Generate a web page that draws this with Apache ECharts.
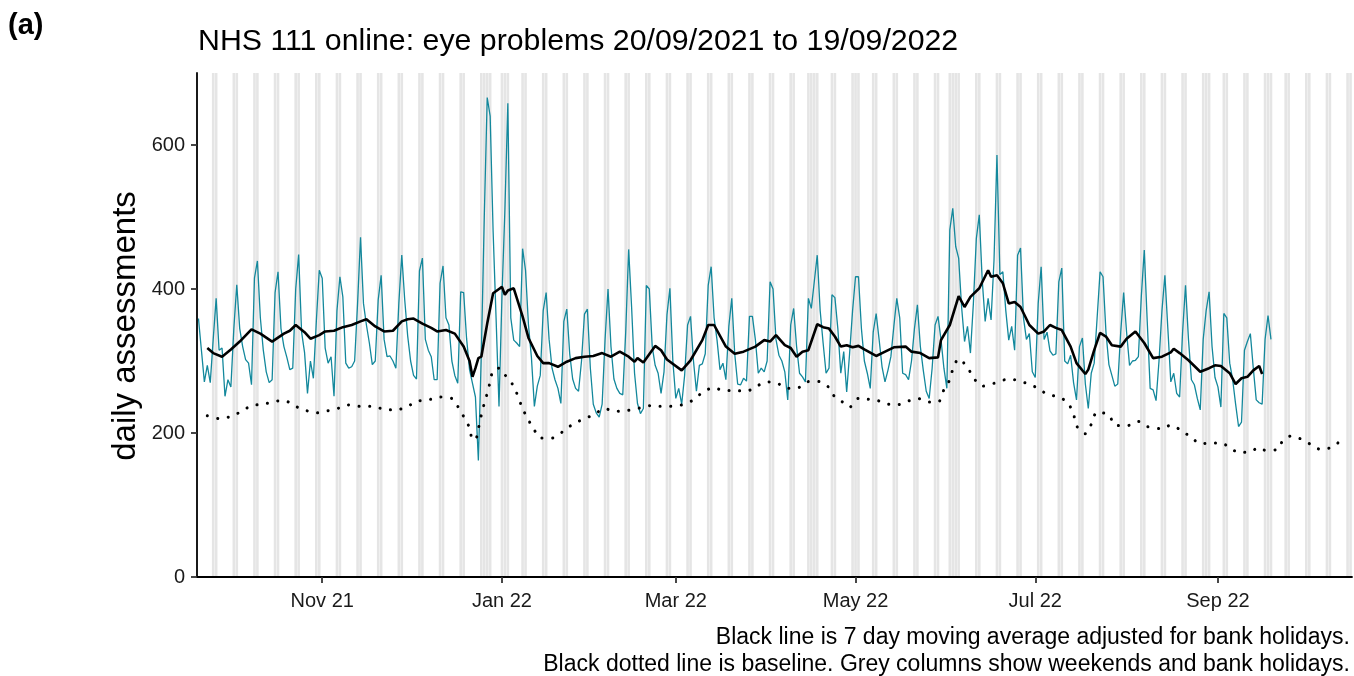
<!DOCTYPE html>
<html>
<head>
<meta charset="utf-8">
<title>NHS 111 online: eye problems</title>
<script src="https://cdn.jsdelivr.net/npm/echarts@6/dist/echarts.min.js"></script>
<style>
html, body { margin: 0; padding: 0; background: #fff; }
#chart { width: 1354px; height: 676px; }
</style>
</head>
<body>
<div id="chart"></div>
<script>
// the x axis runs day by day, from the first assessment to the end of the baseline
const startDate = '2021-09-20'
const endDate = '2022-10-16'

// daily assessments, one value per day from 20/09/2021 to 19/09/2022 (Mon..Sun rows)
const daily = [
  359, 315, 271, 294, 270, 330, 387,
  315, 318, 251, 274, 264, 345, 406,
  345, 320, 302, 297, 267, 415, 439,
  360, 315, 285, 270, 274, 395, 424,
  345, 320, 305, 288, 290, 400, 448,
  340, 312, 255, 300, 276, 355, 426,
  415, 318, 297, 306, 251, 370, 417,
  389, 297, 290, 292, 300, 380, 472,
  380, 350, 325, 295, 300, 385, 419,
  330, 306, 307, 300, 290, 380, 447,
  385, 335, 300, 280, 275, 425, 443,
  330, 315, 306, 274, 274, 408, 432,
  360, 350, 300, 280, 269, 396, 395,
  331, 288, 269, 250, 162, 310, 500,
  666, 640, 480, 360, 237, 390, 510,
  658, 360, 329, 325, 320, 456, 426,
  350, 305, 237, 265, 280, 370, 395,
  330, 290, 274, 262, 241, 355, 372,
  310, 275, 262, 258, 300, 365, 372,
  290, 240, 228, 222, 240, 330, 400,
  320, 275, 262, 255, 253, 340, 455,
  375, 283, 241, 227, 234, 405, 400,
  320, 294, 283, 255, 285, 364, 401,
  300, 248, 262, 240, 280, 350, 362,
  300, 258, 294, 296, 310, 405, 431,
  360, 329, 288, 297, 274, 348, 387,
  310, 268, 267, 276, 272, 362, 362,
  330, 283, 290, 285, 300, 410, 400,
  330, 308, 300, 285, 246, 350, 373,
  320, 283, 278, 271, 387, 373, 410,
  447, 370, 325, 283, 290, 392, 388,
  345, 283, 313, 257, 311, 370, 417,
  417, 345, 300, 283, 262, 340, 366,
  330, 292, 271, 287, 306, 348, 387,
  360, 283, 281, 274, 300, 345, 378,
  320, 287, 258, 248, 290, 350, 362,
  330, 290, 262, 482, 512, 459, 443,
  375, 327, 348, 311, 380, 470, 503,
  412, 355, 387, 357, 440, 586, 420,
  424, 370, 329, 348, 315, 447, 457,
  360, 330, 338, 285, 277, 380, 431,
  330, 340, 314, 308, 310, 410, 429,
  300, 296, 308, 270, 246, 320, 332,
  268, 234, 283, 297, 360, 424, 417,
  340, 295, 280, 265, 268, 340, 395,
  340, 294, 300, 301, 306, 390, 454,
  355, 262, 260, 245, 300, 370, 419,
  345, 271, 283, 255, 250, 340, 405,
  330, 274, 267, 248, 232, 330, 370,
  396, 320, 277, 264, 236, 366, 360,
  297, 274, 240, 209, 215, 315, 327,
  338, 290, 246, 242, 240, 330, 363,
  330
]

// 7 day moving average, [day number from 20/09/2021, value]
const movingAvg = [
  [3, 318], [5, 311], [8, 306], [11, 316], [14, 327], [18, 344], [21, 338], [25, 327],
  [29, 338], [31, 342], [33, 350], [36, 340], [38, 331], [41, 336], [43, 341], [46, 342],
  [49, 347], [52, 350], [55, 355], [57, 358], [60, 348], [63, 341], [66, 342], [69, 355],
  [71, 358], [73, 359], [76, 352], [79, 346], [81, 341], [84, 343], [87, 338], [90, 320],
  [92, 300], [93, 278], [94, 290], [95, 304], [96, 306], [98, 352], [100, 394], [102, 400],
  [103, 403], [104, 392], [105, 398], [107, 401], [110, 362], [112, 332], [115, 307], [117, 297],
  [119, 297], [122, 292], [125, 299], [128, 304], [131, 306], [134, 307], [137, 311], [140, 306],
  [143, 313], [146, 306], [148, 299], [149, 304], [151, 298], [155, 321], [157, 315], [159, 302],
  [164, 287], [167, 301], [171, 329], [173, 350], [175, 350], [179, 320], [182, 310], [185, 313],
  [189, 320], [192, 329], [194, 327], [196, 336], [199, 322], [201, 318], [203, 306], [205, 313],
  [207, 315], [210, 351], [212, 347], [214, 345], [216, 334], [218, 320], [220, 322], [222, 319],
  [224, 321], [226, 316], [230, 307], [232, 311], [236, 319], [240, 320], [242, 313], [245, 311],
  [248, 304], [251, 305], [252, 329], [255, 350], [258, 390], [260, 375], [262, 389], [265, 401],
  [268, 426], [269, 417], [271, 419], [273, 408], [275, 380], [277, 382], [279, 375], [282, 350],
  [285, 338], [287, 341], [289, 350], [291, 346], [293, 343], [296, 320], [298, 297], [301, 282],
  [302, 288], [304, 315], [306, 339], [308, 334], [310, 322], [313, 320], [315, 331], [318, 341],
  [321, 325], [324, 304], [327, 306], [330, 312], [331, 317], [333, 311], [336, 301], [340, 285],
  [343, 290], [345, 294], [347, 293], [350, 283], [352, 268], [354, 276], [356, 278], [358, 287],
  [360, 293], [361, 282]
]

// baseline, [day number from 20/09/2021, value]
const baseline = [
  [3, 224], [7, 220], [11, 223], [15, 231], [18, 238], [22, 240], [26, 244], [29, 245],
  [33, 237], [36, 232], [40, 228], [44, 231], [48, 235], [51, 239], [55, 237], [59, 237],
  [63, 233], [67, 232], [71, 237], [74, 244], [78, 246], [82, 250], [86, 248], [88, 237],
  [90, 223], [92, 207], [93, 191], [94, 191], [95, 206], [96, 225], [97, 241], [98, 255],
  [99, 271], [100, 287], [102, 290], [105, 275], [107, 265], [110, 234], [112, 218], [114, 204],
  [116, 193], [120, 193], [124, 203], [127, 212], [131, 220], [134, 225], [138, 234], [141, 230],
  [145, 231], [149, 234], [153, 238], [156, 237], [160, 237], [164, 239], [168, 246], [171, 256],
  [175, 263], [178, 259], [182, 259], [186, 258], [189, 264], [193, 271], [196, 270], [200, 262],
  [203, 262], [206, 270], [208, 272], [211, 271], [214, 263], [216, 250], [219, 242], [221, 236],
  [224, 248], [227, 247], [230, 246], [233, 241], [237, 239], [240, 243], [244, 248], [248, 243],
  [251, 243], [253, 260], [255, 274], [256, 288], [258, 303], [261, 291], [263, 277], [266, 265],
  [270, 269], [274, 274], [277, 274], [281, 269], [285, 262], [288, 254], [292, 250], [295, 242],
  [297, 226], [298, 210], [301, 199], [303, 212], [305, 229], [309, 225], [311, 211], [315, 210],
  [319, 216], [322, 209], [327, 206], [330, 211], [334, 202], [337, 194], [340, 185], [343, 186],
  [347, 186], [350, 180], [353, 173], [357, 174], [360, 180], [362, 176], [366, 177], [368, 189],
  [371, 196], [374, 192], [378, 183], [381, 177], [385, 181], [388, 191]
]

// bank holidays (shown grey along with weekends)
const bankHolidays = ['2021-12-27', '2021-12-28', '2022-01-03', '2022-04-15', '2022-04-18',
  '2022-05-02', '2022-06-02', '2022-06-03', '2022-08-29', '2022-09-19']

const yTicks = [0, 200, 400, 600]
const monthLabels = {
  '2021-11-01': 'Nov 21', '2022-01-01': 'Jan 22', '2022-03-01': 'Mar 22',
  '2022-05-01': 'May 22', '2022-07-01': 'Jul 22', '2022-09-01': 'Sep 22'
}

const yMax = 700
const teal = '#13889c'
const font = 'Liberation Sans, Arial, sans-serif'

// build the day categories
const dates = []
const weekdays = []
for (let t = Date.parse(startDate + 'T00:00:00Z'); t <= Date.parse(endDate + 'T00:00:00Z'); t += 86400000) {
  const d = new Date(t)
  dates.push(d.toISOString().slice(0, 10))
  weekdays.push(d.getUTCDay())
}

const greyDays = dates.map((d, i) =>
  (weekdays[i] === 0 || weekdays[i] === 6 || bankHolidays.includes(d)) ? yMax : '-')

const isTickDay = (index, value) => monthLabels[value] !== undefined

const chart = echarts.init(document.getElementById('chart'), null, { renderer: 'canvas' })

chart.setOption({
  animation: false,
  backgroundColor: '#fff',
  textStyle: { fontFamily: font },
  grid: { left: 197, right: 2, top: 73, bottom: 99, containLabel: false },
  xAxis: {
    type: 'category',
    data: dates,
    boundaryGap: true,
    z: 10,
    axisLine: { show: true, lineStyle: { color: '#000', width: 1.8 } },
    axisTick: {
      show: true,
      alignWithLabel: true,
      interval: isTickDay,
      length: 6,
      lineStyle: { color: '#333', width: 1.8 }
    },
    axisLabel: {
      interval: isTickDay,
      formatter: v => monthLabels[v] || '',
      fontSize: 20,
      color: '#1a1a1a',
      fontFamily: font,
      margin: 14
    },
    splitLine: { show: false }
  },
  yAxis: {
    type: 'value',
    min: 0,
    max: yMax,
    interval: 200,
    z: 10,
    axisLine: { show: true, lineStyle: { color: '#000', width: 1.8 } },
    axisTick: { show: true, length: 6, customValues: yTicks, lineStyle: { color: '#333', width: 1.8 } },
    axisLabel: { customValues: yTicks, fontSize: 20, color: '#1a1a1a', fontFamily: font, margin: 12 },
    splitLine: { show: false }
  },
  series: [
    {
      name: 'weekends and bank holidays',
      type: 'bar',
      data: greyDays,
      barCategoryGap: '12%',
      itemStyle: { color: '#e5e5e5' },
      silent: true,
      z: 1
    },
    {
      name: 'daily assessments',
      type: 'line',
      data: daily,
      showSymbol: false,
      lineStyle: { color: teal, width: 1.3 },
      z: 3
    },
    {
      name: 'baseline',
      type: 'line',
      data: baseline.map(p => [dates[p[0]], p[1]]),
      showSymbol: false,
      smooth: 0.3,
      lineStyle: { color: '#000', width: 3, type: [0.1, 10.5], cap: 'round' },
      z: 4
    },
    {
      name: '7 day moving average',
      type: 'line',
      data: movingAvg.map(p => [dates[p[0]], p[1]]),
      showSymbol: false,
      lineStyle: { color: '#000', width: 2.6 },
      z: 5
    }
  ],
  graphic: [
    {
      type: 'text', left: 8, top: 11,
      style: { text: '(a)', font: 'bold 29px ' + font, fill: '#000' }
    },
    {
      type: 'text', x: 198, y: 42,
      style: {
        text: 'NHS 111 online: eye problems 20/09/2021 to 19/09/2022',
        font: '30.3px ' + font, fill: '#000', verticalAlign: 'middle'
      }
    },
    {
      type: 'text', x: 126, y: 326, rotation: Math.PI / 2,
      style: {
        text: 'daily assessments', font: '33px ' + font, fill: '#000',
        align: 'center', verticalAlign: 'middle'
      }
    },
    {
      type: 'text', x: 1350, y: 638,
      style: {
        text: 'Black line is 7 day moving average adjusted for bank holidays.',
        font: '23px ' + font, fill: '#000', align: 'right', verticalAlign: 'middle'
      }
    },
    {
      type: 'text', x: 1350, y: 665,
      style: {
        text: 'Black dotted line is baseline. Grey columns show weekends and bank holidays.',
        font: '23px ' + font, fill: '#000', align: 'right', verticalAlign: 'middle'
      }
    }
  ]
})
</script>
</body>
</html>
